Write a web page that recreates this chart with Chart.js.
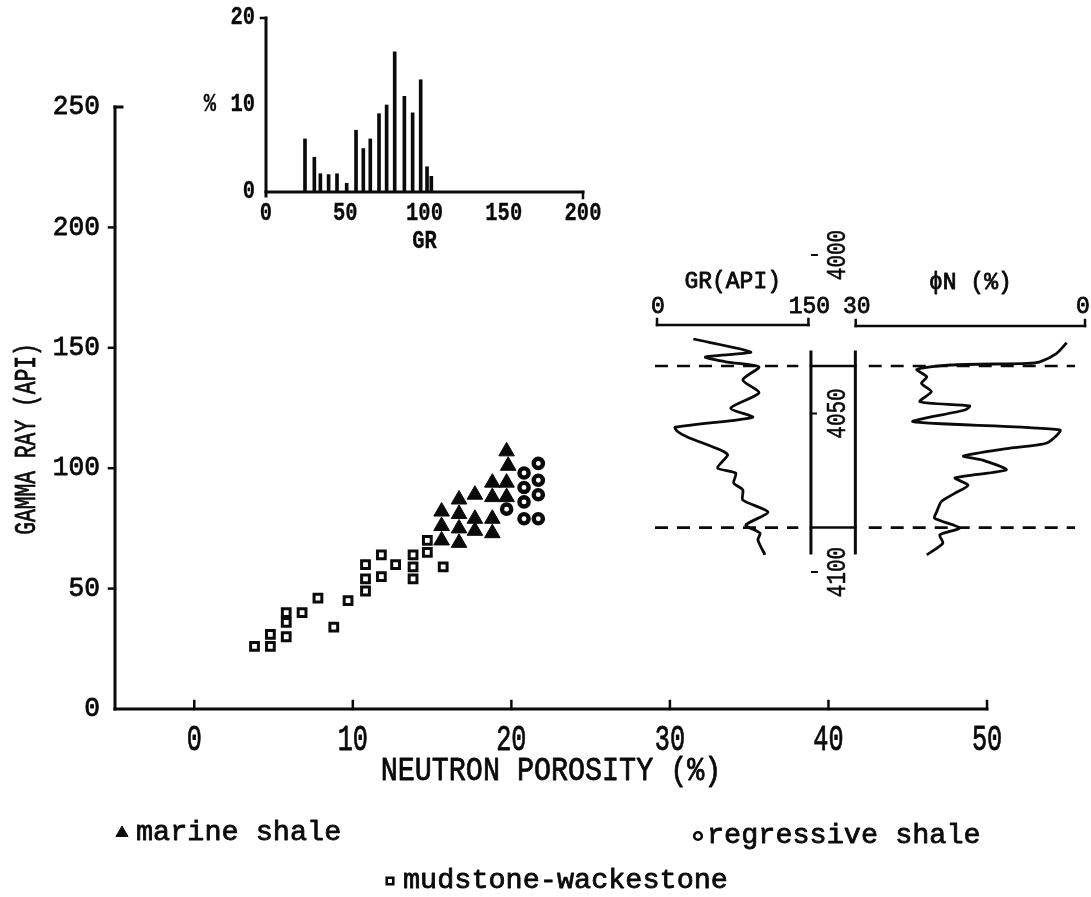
<!DOCTYPE html>
<html>
<head>
<meta charset="utf-8">
<script src="https://cdn.jsdelivr.net/npm/chart.js@4.4.1/dist/chart.umd.min.js"></script>
<style>
  html, body { margin: 0; padding: 0; background: #fff; }
  #wrap { position: relative; width: 1091px; height: 897px; overflow: hidden; }
  canvas { position: absolute; }
  #main { left: 0; top: 0; }
  #hist { left: 200px; top: 0; }
  #log  { left: 620px; top: 220px; }
</style>
</head>
<body>
<div id="wrap">
  <canvas id="main" width="1091" height="897"></canvas>
  <canvas id="hist" width="410" height="260"></canvas>
  <canvas id="log" width="471" height="400"></canvas>
</div>
<script>
// ---- Crossplot: neutron porosity (%) vs gamma ray (API) ----
const mudPhi = [3.8, 4.8, 4.8, 5.8, 5.8, 5.8, 6.8, 7.8, 8.8, 9.7, 10.8, 10.8, 10.8, 11.8, 11.8, 12.7, 13.8, 13.8, 13.8, 14.7, 14.7, 15.7];
const mudGR  = [26, 26, 31, 40, 36, 30, 40, 46, 34, 45, 60, 54, 49, 64, 55, 60, 64, 59, 54, 70, 65, 59];

const marinePhi = [19.7, 19.8, 18.8, 19.7, 16.7, 17.7, 18.8, 19.7, 15.6, 16.7, 17.7, 18.8, 15.6, 16.7, 17.7, 18.8, 15.6, 16.7];
const marineGR  = [107, 101, 94, 94, 87, 89, 88, 88, 82, 81, 79, 79, 76, 75, 74, 73, 70, 69];

const regPhi = [20.8, 21.7, 20.8, 21.7, 20.8, 21.7, 19.7, 20.8, 21.7];
const regGR  = [98, 102, 92, 95, 86, 89, 83, 79, 79];

const xTickValues = [0, 10, 20, 30, 40, 50];
const yTickValues = [0, 50, 100, 150, 200, 250];
const xTitle = 'NEUTRON POROSITY (%)';
const yTitle = 'GAMMA RAY (API)';

// ---- GR frequency histogram ----
const histGR  = [24.6, 30.5, 34.3, 39.5, 44.8, 50.9, 56.8, 61.4, 65.8, 71.3, 76.1, 81.2, 87.3, 92.5, 97.6, 101.6, 104.3];
const histPct = [6.1, 4.0, 2.1, 2.0, 2.1, 1.0, 7.1, 5.0, 6.1, 9.0, 10.0, 16.1, 11.0, 9.1, 12.9, 2.9, 1.8];
const histXTicks = [0, 50, 100, 150, 200];
const histYTicks = [0, 10, 20];

// ---- Well log: GR and neutron porosity against depth ----
const grLogDepth = [4026.5, 4030.6, 4032.2, 4033.8, 4035.3, 4039.4, 4043.5, 4048.3, 4051.1, 4052.0, 4054.3, 4055.6, 4057.4, 4061.5, 4063.1, 4067.2, 4068.8, 4071.9, 4074.1, 4077.3, 4081.1, 4085.2, 4087.7, 4089.9, 4094.6];
const grLogAPI   = [36, 93, 48, 70, 101, 85, 101, 73, 95, 80, 18, 20, 30, 63, 70, 60, 78, 76, 85, 85, 110, 88, 102, 100, 107];

const phiLogDepth = [4027.7, 4031.0, 4033.7, 4034.2, 4034.7, 4036.1, 4038.4, 4040.5, 4043.1, 4046.3, 4047.6, 4048.9, 4052.6, 4055.2, 4059.3, 4060.9, 4063.4, 4064.7, 4067.8, 4070.3, 4072.6, 4075.1, 4077.8, 4081.0, 4083.0, 4086.1, 4088.3, 4090.9, 4094.6];
const phiLogPct   = [2.4, 3.7, 5.9, 7.6, 17.6, 22.0, 20.7, 21.4, 20.1, 21.6, 15.1, 15.7, 22.5, 3.3, 5.0, 9.8, 15.9, 13.4, 10.3, 17.0, 15.3, 17.0, 18.8, 19.4, 19.7, 16.4, 19.0, 18.6, 20.7];

const zoneTop = 4035;
const zoneBase = 4086;
const depthTicks = [4000, 4050, 4100];
const grScale = [0, 150];
const phiScale = [30, 0];

// ---------------------------------------------------------------
const FONT = '"Liberation Mono", "DejaVu Sans Mono", monospace';
const INK = '#0a0a0a';

function pts(xs, ys) { return xs.map((x, i) => ({ x, y: ys[i] })); }

// typewriter-style label: optional horizontal squeeze, rotation and a thin outline for weight
function text(ctx, str, x, y, o) {
  ctx.save();
  ctx.translate(x, y);
  if (o.rotate) ctx.rotate(o.rotate);
  ctx.scale(o.sx || 1, 1);
  ctx.font = (o.weight || 'normal') + ' ' + o.size + 'px ' + FONT;
  ctx.textAlign = o.align || 'center';
  ctx.textBaseline = 'middle';
  ctx.fillStyle = INK;
  ctx.fillText(str, 0, 0);
  const sw = o.stroke === undefined ? 0.8 : o.stroke;
  if (sw > 0) {
    ctx.strokeStyle = INK;
    ctx.lineWidth = sw;
    ctx.lineJoin = 'round';
    ctx.strokeText(str, 0, 0);
  }
  ctx.restore();
}

function seg(ctx, x1, y1, x2, y2, w) {
  ctx.save();
  ctx.strokeStyle = INK;
  ctx.lineWidth = w;
  ctx.lineCap = 'square';
  ctx.beginPath();
  ctx.moveTo(x1, y1);
  ctx.lineTo(x2, y2);
  ctx.stroke();
  ctx.restore();
}

const baseOpts = {
  responsive: false,
  animation: false,
  devicePixelRatio: 1,
  events: [],
  plugins: { legend: { display: false }, tooltip: { enabled: false } }
};

// ---- main crossplot frame, ticks, titles and legend ----
const mainFrame = {
  id: 'mainFrame',
  beforeDatasetsDraw(chart) {
    const { ctx, chartArea: a, scales: { x, y } } = chart;
    seg(ctx, a.left, a.bottom, a.left, a.top, 3);
    seg(ctx, a.left, a.bottom, a.right, a.bottom, 3);

    yTickValues.forEach(v => {
      const py = y.getPixelForValue(v);
      if (v === y.max) seg(ctx, a.left, py, a.left + 7, py, 3);
      else if (v !== y.min) seg(ctx, a.left - 6, py, a.left, py, 2.5);
      text(ctx, String(v), a.left - 15, py, { size: 27, align: 'right', sx: 0.97 });
    });
    xTickValues.forEach(v => {
      const px = x.getPixelForValue(v);
      seg(ctx, px, a.bottom, px, a.bottom - 8, 2.5);
      text(ctx, String(v), px, a.bottom + 31, { size: 36, sx: 0.7 });
    });
    text(ctx, xTitle, (a.left + a.right) / 2, a.bottom + 62, { size: 33, sx: 0.86 });
    text(ctx, yTitle, 27, 439, { size: 30, sx: 0.71, rotate: -Math.PI / 2 });

    // legend entries placed under the plot
    const items = [
      { ds: 1, mx: 122, ty: 832, tx: 136, r: 7 },
      { ds: 2, mx: 698, ty: 835, tx: 707, r: 3.8 },
      { ds: 0, mx: 390, ty: 880, tx: 403, r: 4.6 }
    ];
    items.forEach(it => {
      const d = chart.data.datasets[it.ds];
      ctx.save();
      ctx.fillStyle = d.backgroundColor;
      ctx.strokeStyle = d.borderColor;
      ctx.lineWidth = it.ds === 1 ? 1 : 2.6;
      Chart.helpers.drawPoint(ctx, { pointStyle: d.pointStyle, radius: it.r, rotation: 0, borderWidth: ctx.lineWidth }, it.mx, it.ty + 1);
      ctx.restore();
      text(ctx, d.label, it.tx, it.ty, { size: 28.5, align: 'left' });
    });
  }
};

new Chart(document.getElementById('main'), {
  type: 'scatter',
  data: {
    datasets: [
      { label: 'mudstone-wackestone', data: pts(mudPhi, mudGR), pointStyle: 'rect', pointRadius: 5.5,
        borderWidth: 3, borderColor: INK, backgroundColor: '#fff' },
      { label: 'marine shale', data: pts(marinePhi, marineGR), pointStyle: 'triangle', pointRadius: 9,
        borderWidth: 1, borderColor: INK, backgroundColor: INK },
      { label: 'regressive shale', data: pts(regPhi, regGR), pointStyle: 'circle', pointRadius: 4.6,
        borderWidth: 4.4, borderColor: INK, backgroundColor: '#fff' }
    ]
  },
  options: Object.assign({}, baseOpts, {
    layout: { padding: { left: 115, right: 104, top: 107, bottom: 188 } },
    scales: {
      x: { type: 'linear', min: -5, max: 50, display: false },
      y: { type: 'linear', min: 0, max: 250, display: false }
    }
  }),
  plugins: [mainFrame]
});

// ---- histogram inset ----
const histFrame = {
  id: 'histFrame',
  beforeDatasetsDraw(chart) {
    const { ctx, chartArea: a, scales: { x, y } } = chart;
    seg(ctx, a.left, a.bottom + 4, a.left, a.top, 3);
    seg(ctx, a.left, a.bottom, a.right, a.bottom, 3);
    seg(ctx, a.left - 5, a.top, a.left, a.top, 2.5);
    seg(ctx, a.right, a.bottom, a.right, a.bottom + 6, 2.5);
    const lab = { size: 25, sx: 0.82, weight: 'bold', stroke: 0.3 };
    histYTicks.forEach(v => {
      text(ctx, String(v), a.left - 11, y.getPixelForValue(v), Object.assign({ align: 'right' }, lab));
    });
    text(ctx, '%', a.left - 56, y.getPixelForValue(10), lab);
    histXTicks.forEach(v => {
      text(ctx, String(v), x.getPixelForValue(v), a.bottom + 22, lab);
    });
    text(ctx, 'GR', (a.left + a.right) / 2, a.bottom + 50, lab);
  }
};

new Chart(document.getElementById('hist'), {
  type: 'bar',
  data: {
    datasets: [{ label: '%', data: pts(histGR, histPct), backgroundColor: INK, barThickness: 3 }]
  },
  options: Object.assign({}, baseOpts, {
    layout: { padding: { left: 66, right: 27, top: 18, bottom: 68 } },
    scales: {
      x: { type: 'linear', min: 0, max: 200, offset: false, display: false },
      y: { type: 'linear', min: 0, max: 20, display: false }
    }
  }),
  plugins: [histFrame]
});

// ---- well-log inset ----
const logFrame = {
  id: 'logFrame',
  beforeDatasetsDraw(chart) {
    const { ctx, chartArea: a, scales: { xGR, xPhi, depth } } = chart;
    // track headers
    const hy = a.top + 70;
    const g0 = xGR.getPixelForValue(grScale[0]), g1 = xGR.getPixelForValue(grScale[1]);
    const p0 = xPhi.getPixelForValue(phiScale[0]), p1 = xPhi.getPixelForValue(phiScale[1]);
    seg(ctx, g0, hy, g1, hy, 2.5);
    seg(ctx, g0, hy, g0, hy - 6, 2.5);
    seg(ctx, g1, hy, g1, hy - 6, 2.5);
    seg(ctx, p0, hy + 1, p1, hy + 1, 2.5);
    seg(ctx, p0, hy + 1, p0, hy - 5, 2.5);
    seg(ctx, p1, hy + 1, p1, hy - 5, 2.5);
    const lab = { size: 23 };
    text(ctx, String(grScale[0]), g0 + 1, hy - 18, lab);
    text(ctx, String(grScale[1]), g1 + 1, hy - 18, lab);
    text(ctx, String(phiScale[0]), p0 + 1, hy - 18, lab);
    text(ctx, String(phiScale[1]), p1 - 2, hy - 18, lab);
    text(ctx, 'GR(API)', (g0 + g1) / 2, a.top + 27, lab);
    text(ctx, '\u03D5N (%)', (p0 + p1) / 2, a.top + 28, lab);

    // depth track with the zone bounded by the two markers
    const cl = xGR.getPixelForValue(152.5), cr = xGR.getPixelForValue(196.5);
    const ct = depth.getPixelForValue(4030.6), cb = depth.getPixelForValue(4094);
    const zt = depth.getPixelForValue(zoneTop), zb = depth.getPixelForValue(zoneBase);
    seg(ctx, cl, ct, cl, cb, 3);
    seg(ctx, cr, ct, cr, cb, 3);
    seg(ctx, cl, zt, cr, zt, 2.5);
    seg(ctx, cl, zb, cr, zb, 2.5);
    depthTicks.forEach(d => {
      const py = depth.getPixelForValue(d);
      if (d > 4030.6 && d < 4094) seg(ctx, cl, py, cl + 5, py, 2);
      else seg(ctx, cl + 1, py, cl + 6, py, 2);
      text(ctx, String(d), cl + 27, py, { size: 28, sx: 0.75, rotate: -Math.PI / 2, stroke: 0.5 });
    });
  }
};

const curve = { showLine: true, pointRadius: 0, borderColor: INK, borderWidth: 2.8, tension: 0.22, clip: false, yAxisID: 'depth' };
const dashed = { showLine: true, pointRadius: 0, borderColor: INK, borderWidth: 2.6, borderDash: [13, 9], clip: false, yAxisID: 'depth' };

new Chart(document.getElementById('log'), {
  type: 'scatter',
  data: {
    datasets: [
      Object.assign({ label: 'GR', data: pts(grLogAPI, grLogDepth), xAxisID: 'xGR' }, curve),
      Object.assign({ label: 'phiN', data: pts(phiLogPct, phiLogDepth), xAxisID: 'xPhi' }, curve),
      Object.assign({ label: 'top GR', data: [{ x: -2, y: zoneTop }, { x: 140, y: zoneTop }], xAxisID: 'xGR' }, dashed),
      Object.assign({ label: 'base GR', data: [{ x: -2, y: zoneBase }, { x: 140, y: zoneBase }], xAxisID: 'xGR' }, dashed),
      Object.assign({ label: 'top phi', data: [{ x: 28.3, y: zoneTop }, { x: 1.3, y: zoneTop }], xAxisID: 'xPhi' }, dashed),
      Object.assign({ label: 'base phi', data: [{ x: 28.3, y: zoneBase }, { x: 1.3, y: zoneBase }], xAxisID: 'xPhi' }, dashed)
    ]
  },
  options: Object.assign({}, baseOpts, {
    layout: { padding: { left: 37, right: 6, top: 35, bottom: 48 } },
    scales: {
      xGR:   { type: 'linear', axis: 'x', position: 'bottom', min: 0, max: 424, display: false },
      xPhi:  { type: 'linear', axis: 'x', position: 'top', min: 0, max: 56, reverse: true, display: false },
      depth: { type: 'linear', axis: 'y', position: 'left', min: 4000, max: 4100, reverse: true, display: false }
    }
  }),
  plugins: [logFrame]
});
</script>
</body>
</html>
